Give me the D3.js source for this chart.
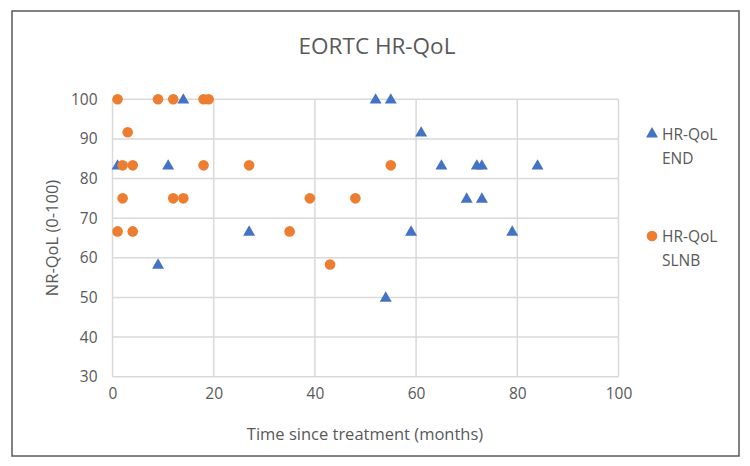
<!DOCTYPE html>
<html>
<head>
<meta charset="utf-8">
<script src="https://cdn.jsdelivr.net/npm/d3@7"></script>
<style>
  body { margin: 0; background: #fff; }
  text { font-family: "Open Sans", sans-serif; fill: #595959; }
</style>
</head>
<body>
<div id="chart"></div>
<script>
// data (scores in steps of 100/12)
const endMonths = [1, 9, 11, 14, 27, 52, 54, 55, 59, 61, 65, 70, 72, 73, 73, 79, 84];
const endScores = [83.33, 58.33, 83.33, 100, 66.67, 100, 50, 100, 66.67, 91.67, 83.33, 75, 83.33, 83.33, 75, 66.67, 83.33];
const slnbMonths = [1, 9, 12, 18, 19, 3, 2, 4, 18, 2, 12, 14, 1, 4, 27, 55, 39, 48, 35, 43];
const slnbScores = [100, 100, 100, 100, 100, 91.67, 83.33, 83.33, 83.33, 75, 75, 75, 66.67, 66.67, 83.33, 83.33, 75, 75, 66.67, 58.33];
const xTicks = [0, 20, 40, 60, 80, 100];
const yTicks = [30, 40, 50, 60, 70, 80, 90, 100];
const seriesNames = [["HR-QoL", "END"], ["HR-QoL", "SLNB"]];

const width = 750;
const height = 466;
const margin = { left: 112.5, right: 131.5, top: 99.3, bottom: 89.3 };

const svg = d3.select("#chart")
  .append("svg")
  .attr("width", width)
  .attr("height", height);

// outer chart frame
svg.append("rect")
  .attr("x", 12).attr("y", 11)
  .attr("width", 727).attr("height", 445)
  .attr("fill", "#fff")
  .attr("stroke", "#5a5a5a")
  .attr("stroke-width", 1.5);

const x = d3.scaleLinear().domain([0, 100]).range([margin.left, width - margin.right]);
const y = d3.scaleLinear().domain([30, 100]).range([height - margin.bottom, margin.top]);

// gridlines
svg.append("g")
  .selectAll("line.h")
  .data(yTicks)
  .enter()
  .append("line")
  .attr("x1", x(0)).attr("x2", x(100))
  .attr("y1", (d) => y(d)).attr("y2", (d) => y(d))
  .attr("stroke", "#d9d9d9")
  .attr("stroke-width", 1.5);

svg.append("g")
  .selectAll("line.v")
  .data(xTicks)
  .enter()
  .append("line")
  .attr("x1", (d) => x(d)).attr("x2", (d) => x(d))
  .attr("y1", y(30)).attr("y2", y(100))
  .attr("stroke", "#d9d9d9")
  .attr("stroke-width", 1.5);

// axes (labels only, lines come from the grid)
const xAxis = svg.append("g")
  .attr("transform", `translate(0,${y(30)})`)
  .call(d3.axisBottom(x).tickValues(xTicks).tickSize(0).tickPadding(11));
const yAxis = svg.append("g")
  .attr("transform", `translate(${x(0)},0)`)
  .call(d3.axisLeft(y).tickValues(yTicks).tickSize(0).tickPadding(15));
[xAxis, yAxis].forEach((g) => {
  g.select(".domain").remove();
  g.selectAll("text")
    .attr("font-family", "Open Sans")
    .attr("font-size", 15.5)
    .attr("fill", "#595959");
});

// END triangles
const tri = d3.symbol().type(d3.symbolTriangle).size(62);
svg.append("g")
  .selectAll("path")
  .data(endMonths.map((m, i) => [m, endScores[i]]))
  .enter()
  .append("path")
  .attr("d", tri)
  .attr("transform", (d) => `translate(${x(d[0])},${y(d[1]) + 0.8})`)
  .attr("fill", "#4472c4");

// SLNB circles
svg.append("g")
  .selectAll("circle")
  .data(slnbMonths.map((m, i) => [m, slnbScores[i]]))
  .enter()
  .append("circle")
  .attr("cx", (d) => x(d[0]))
  .attr("cy", (d) => y(d[1]))
  .attr("r", 5.3)
  .attr("fill", "#ed7d31");

// titles
svg.append("text")
  .attr("x", 377).attr("y", 54)
  .attr("text-anchor", "middle")
  .attr("font-size", 22.5)
  .text("EORTC HR-QoL");

svg.append("text")
  .attr("x", 365).attr("y", 440)
  .attr("text-anchor", "middle")
  .attr("font-size", 16.5)
  .text("Time since treatment (months)");

svg.append("text")
  .attr("transform", "translate(58,238) rotate(-90)")
  .attr("text-anchor", "middle")
  .attr("font-size", 16.5)
  .text("NR-QoL (0-100)");

// legend
const legend = svg.append("g");
const legendY = [134, 236];
legend.append("path")
  .attr("d", tri)
  .attr("transform", `translate(652,${legendY[0]})`)
  .attr("fill", "#4472c4");
legend.append("circle")
  .attr("cx", 652).attr("cy", legendY[1])
  .attr("r", 5.3)
  .attr("fill", "#ed7d31");
seriesNames.forEach((lines, i) => {
  lines.forEach((t, j) => {
    legend.append("text")
      .attr("x", 662)
      .attr("y", legendY[i] + 6 + j * 24)
      .attr("font-size", 15.5)
      .text(t);
  });
});
</script>
</body>
</html>
